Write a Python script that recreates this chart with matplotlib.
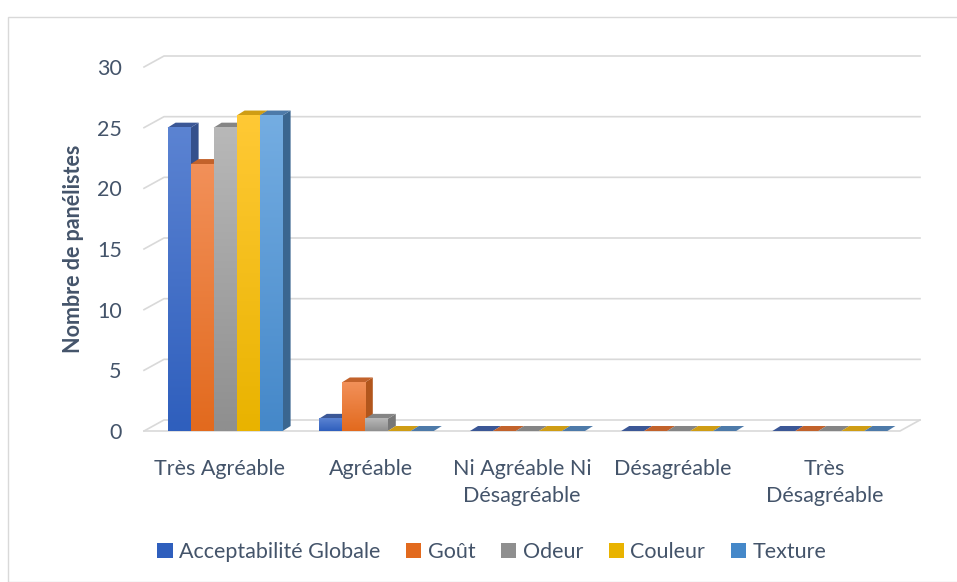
import numpy as np
import matplotlib.pyplot as plt
from matplotlib.patches import Polygon, Patch, Rectangle
from matplotlib.colors import to_rgb

plt.rcParams['font.family'] = ['Lato', 'DejaVu Sans']

categories = ['Très Agréable', 'Agréable', 'Ni Agréable Ni\nDésagréable',
              'Désagréable', 'Très\nDésagréable']
series = ['Acceptabilité Globale', 'Goût', 'Odeur', 'Couleur', 'Texture']
values = [
    [25, 1, 0, 0, 0],   # Acceptabilité Globale
    [22, 4, 0, 0, 0],   # Goût
    [25, 1, 0, 0, 0],   # Odeur
    [26, 0, 0, 0, 0],   # Couleur
    [26, 0, 0, 0, 0],   # Texture
]
yticks = [0, 5, 10, 15, 20, 25, 30]

# front (top of gradient), front (bottom), top face, side face
palette = [
    ('#5b83d2', '#2f5fbd', '#3b5796', '#34508c'),
    ('#f29059', '#e26a1e', '#c2622b', '#b2561c'),
    ('#b8b8b8', '#8f8f8f', '#858585', '#777777'),
    ('#ffc935', '#e9b300', '#cf9d14', '#be8f00'),
    ('#74ade2', '#4588c9', '#4d7aa9', '#3a6690'),
]
text_col = '#44546a'
grid_col = '#d9d9d9'
fs = 15.5

W, H = 957, 582
fig = plt.figure(figsize=(W / 100, H / 100), dpi=100)
fig.patches.append(Rectangle((8 / W, 0), 1, 1 - 17 / H, transform=fig.transFigure,
                             fill=False, edgecolor=grid_col, lw=1))

left, right, y0, y30 = 144, 900, 431, 67
ax = fig.add_axes([left / W, (H - y0) / H, (right - left) / W, (y0 - y30) / H])
ax.set_xlim(-0.5, 4.5)
ax.set_ylim(0, 30)

px_x = 5 / (right - left)          # data units per pixel
px_y = 30 / (y0 - y30)
gdx, gdy = 20 * px_x, 11 * px_y    # wall depth
bdx, bdy = 8 * px_x, 5 * px_y      # bar depth

# walls / gridlines
for v in yticks:
    ax.plot([-0.5, -0.5 + gdx, 4.5 + gdx], [v, v + gdy, v + gdy],
            color=grid_col, lw=1.2, clip_on=False, zorder=0)
ax.plot([-0.5, 4.5, 4.5 + gdx], [0, 0, gdy], color=grid_col, lw=1.2,
        clip_on=False, zorder=0)

bar_w = 23 * px_x
start = -52 * px_x
z = 2
for j in range(len(categories)):
    for i, name in enumerate(series):
        v = values[i][j]
        c_top, c_bot, c_lid, c_side = palette[i]
        x0 = j + start + i * bar_w
        x1 = x0 + bar_w
        if v > 0:
            ax.add_patch(Polygon([(x1, 0), (x1 + bdx, bdy), (x1 + bdx, v + bdy), (x1, v)],
                                 closed=True, facecolor=c_side, edgecolor='none', zorder=z))
        ax.add_patch(Polygon([(x0, v), (x0 + bdx, v + bdy), (x1 + bdx, v + bdy), (x1, v)],
                             closed=True, facecolor=c_lid, edgecolor='none', zorder=z,
                             clip_on=False))
        if v > 0:
            grad = np.linspace(to_rgb(c_top), to_rgb(c_bot), 64)[:, None, :]
            ax.imshow(grad, extent=(x0, x1, 0, v), aspect='auto',
                      interpolation='bilinear', zorder=z + 0.5)
        z += 1

ax.set_xlim(-0.5, 4.5)
ax.set_ylim(0, 30)
for s in ax.spines.values():
    s.set_visible(False)
ax.set_yticks(yticks)
ax.set_yticklabels([str(t) for t in yticks])
ax.set_xticks(range(len(categories)))
ax.set_xticklabels(categories, linespacing=1.45)
ax.tick_params(axis='y', length=0, pad=16, labelsize=fs, labelcolor=text_col)
ax.tick_params(axis='x', length=0, pad=20, labelsize=fs, labelcolor=text_col)
for lab in ax.get_xticklabels():
    lab.set_va('top')
ax.set_ylabel('Nombre de panélistes', fontsize=fs, fontweight='bold',
              color=text_col, labelpad=9)

handles = [Patch(facecolor=palette[i][1], edgecolor='none') for i in range(len(series))]
fig.legend(handles, series, loc='center', bbox_to_anchor=(492 / W, 1 - 552 / H),
           ncol=5, frameon=False, fontsize=fs, labelcolor=text_col,
           handlelength=0.7, handleheight=0.7, handletextpad=0.3, columnspacing=1.2)

fig.savefig('out.png', dpi=100)
